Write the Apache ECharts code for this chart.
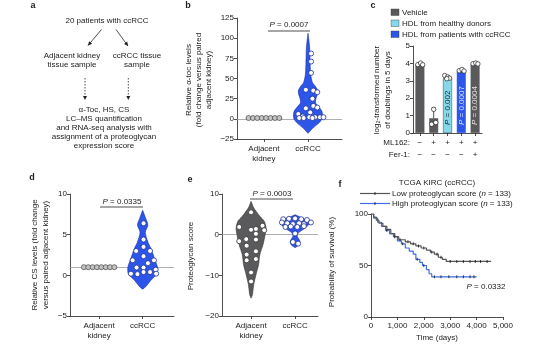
<!DOCTYPE html>
<html><head><meta charset="utf-8">
<script src="https://cdn.jsdelivr.net/npm/echarts@6/dist/echarts.min.js"></script>
<style>html,body{margin:0;padding:0;background:#fff}#c{width:554px;height:346px}</style>
</head><body><div id="c"></div>
<script>
// ---------------- DATA ----------------
const groupNames = ['Adjacent\nkidney', 'ccRCC'];

// panel b (alpha-toc) : [x-jitter, value]
const bAdjPoints = [[-0.35,1],[-0.25,1],[-0.15,1],[-0.05,1],[0.05,1],[0.15,1],[0.25,1],[0.35,1]];
const bCcPoints = [[0.07,81],[0.07,71],[0.07,57],[-0.05,36],[0.12,35],[0.21,33],[0.1,25],[0.12,16],[0.21,14],[-0.05,13],
  [0.05,8],[-0.22,6],[-0.12,3],[0.03,2],[0.16,2],[0.27,2],[-0.2,1],[0.35,2],[-0.1,1],[0.1,1]];
const bViolinY = [-18,-12,-5,0,5,10,15,20,25,30,35,40,45,55,65,75,85,95,106];
const bViolinW = [0,0.1,0.25,0.32,0.33,0.31,0.24,0.17,0.18,0.21,0.22,0.17,0.1,0.06,0.05,0.045,0.04,0.025,0];
const bPValue = '0.0007';

// panel c (doublings)
const cCategories = ['Vehicle','ML162','HDL healthy','HDL ccRCC','ML162 + Fer-1'];
const cBarValues = [3.95, 0.85, 3.15, 3.55, 3.95];
const cErrorTop = [4.0, 1.45, 3.3, 3.66, 4.02];
const cPoints = [
  [[-0.15,3.93],[0.05,4.02],[0.2,3.92]],
  [[0.0,1.36],[-0.15,0.5],[0.15,0.6]],
  [[-0.2,3.3],[0.0,3.22],[0.15,3.15],[-0.05,3.12]],
  [[-0.15,3.58],[0.05,3.65],[0.2,3.56]],
  [[-0.15,3.98],[0.05,4.02],[0.2,3.97]]
];
const cML162 = ['\u2212','+','+','+','+'];
const cFer1 = ['\u2212','\u2212','\u2212','\u2212','+'];
const cPLabels = ['', '', '0.002', '0.0007', '0.0004'];
const cLegendNames = ['Vehicle','HDL from healthy donors','HDL from patients with ccRCC'];

// panel d (CS levels)
const dAdjPoints = [[-0.35,1],[-0.25,1],[-0.15,1],[-0.05,1],[0.05,1],[0.15,1],[0.25,1],[0.35,1]];
const dCcPoints = [[0.02,6.4],[0.02,4.4],[0.02,3.5],[-0.15,3.0],[0.17,3.0],[0.02,2.35],[-0.23,1.85],[0.26,1.85],[0.12,1.5],
  [-0.14,0.95],[0.02,0.95],[-0.27,0.2],[-0.12,0.15],[0.02,0.4],[0.17,0.4],[0.3,0.7],[0.31,0.2]];
const dViolinY = [-1.7,-1.4,-0.6,0.2,1.0,2.1,3.3,4.1,5.3,6.2,7.0,8.0];
const dViolinW = [0,0.07,0.19,0.33,0.34,0.27,0.19,0.12,0.06,0.12,0.07,0];
const dPValue = '0.0335';

// panel e (proteoglycan score)
const eAdjPoints = [[0,5.5],[0.26,2.2],[-0.27,1.9],[0.11,1.4],[0,1.2],[0.3,1.1],[0.11,0.2],[-0.27,-1.6],[-0.11,-1.1],
  [0.11,-1.2],[-0.1,-2.7],[0.11,-4.1],[-0.1,-4.9],[-0.1,-6.3],[0.11,-6.0],[0,-9.3],[0,-11.5]];
const eAdjViolinY = [-15.6,-14.8,-12.3,-9.9,-7.4,-4.9,-2.5,0,1.6,3.3,4.5,6.6,8.2];
const eAdjViolinW = [0,0.03,0.06,0.11,0.17,0.2,0.27,0.32,0.34,0.3,0.2,0.06,0];
const eCcPoints = [[-0.27,3.8],[-0.14,3.9],[0,4.0],[0.14,3.8],[0.27,3.6],[0.36,3.0],[-0.3,3.0],[-0.18,2.8],[-0.05,2.6],
  [0.09,2.8],[0.2,2.6],[-0.1,2.0],[0.05,1.9],[0.2,2.1],[-0.22,1.9],[0,0.3],[-0.05,-1.8],[0.07,-2.2]];
const eCcViolinY = [-3.2,-2.5,-1.6,-0.4,0.4,1.65,2.9,3.8,4.9];
const eCcViolinW = [0,0.09,0.11,0.05,0.07,0.23,0.34,0.22,0];
const ePValue = '0.0003';

// panel f (Kaplan-Meier)
const lowTime = [0,100,200,300,450,600,750,900,1050,1300,1500,1700,1900,2100,2250,2400,2550,2700,2850,4550];
const lowSurv = [100,97,94,91,88,85,81,78,75,73,71,69,67,65,63,61,58,56,54,54];
const highTime = [0,100,250,400,550,700,850,1000,1150,1300,1450,1600,1700,1850,1950,2100,2200,2300,4000];
const highSurv = [100,96,92,88,84,81,78,74,71,67,64,61,56,53,50,46,42,39,39];
const lowCensor = [1100,1400,1600,1800,2000,2300,2500,2650,3000,3250,3500,3750,3950,4150,4400];
const highCensor = [600,900,1200,1750,2000,2400,2650,2950,3250,3500,3750,3900];
const fPValue = '0.0332';

// ---------------- STYLE ----------------
const FF = '"Liberation Sans", Arial, Helvetica, sans-serif';
const INK = '#222';
const BLUE = '#2d55ea';
const BLUE_EDGE = '#1a2f9a';
const GREY = '#5a5a5c';
const CYAN = '#86d7e8';
const barColors = [GREY, GREY, CYAN, BLUE, GREY];
const barLabelColors = ['#fff','#fff','#123038','#d6e2ff','#e4e4e4'];

function axisLine(){ return {show:true,onZero:false,lineStyle:{color:INK,width:0.8}}; }
function tick(){ return {show:true,length:3,lineStyle:{color:INK,width:0.8}}; }
function lbl(extra){ return Object.assign({fontSize:8,color:INK,fontFamily:FF,margin:3}, extra||{}); }
const minusFmt = v => String(v).replace('-', '\u2212');

function groupXAxis(grid, min, max){
  return {gridIndex:grid,type:'value',min:min,max:max,axisLine:axisLine(),splitLine:{show:false},
    axisTick:Object.assign(tick(),{customValues:[0,1]}),
    axisLabel:lbl({customValues:[0,1],margin:5,lineHeight:10,formatter:v=>groupNames[Math.round(v)]})};
}
function valYAxis(grid,min,max,interval){
  return {gridIndex:grid,type:'value',min:min,max:max,interval:interval,axisLine:axisLine(),axisTick:tick(),
    splitLine:{show:false},axisLabel:lbl({formatter:minusFmt})};
}
function violin(grid, center, ys, ws, fill, stroke){
  return {type:'custom',xAxisIndex:grid,yAxisIndex:grid,silent:true,z:2,data:[[center,ys[0]]],
    renderItem:function(params, api){
      const right=[], left=[];
      for(let i=0;i<ys.length;i++){
        right.push(api.coord([center+ws[i], ys[i]]));
        left.push(api.coord([center-ws[i], ys[i]]));
      }
      return {type:'polygon',shape:{points:right.concat(left.reverse()),smooth:0.25},
        style:{fill:fill,stroke:stroke,lineWidth:0.6}};
    }};
}
function dots(grid, center, pts, fill, stroke, refLine){
  const s = {type:'scatter',xAxisIndex:grid,yAxisIndex:grid,z:4,symbolSize:5,silent:true,
    data:pts.map(p=>[center+p[0], p[1]]),
    itemStyle:{color:fill,borderColor:stroke,borderWidth:0.8,opacity:1}};
  if(refLine!==undefined){
    s.markLine={silent:true,symbol:'none',label:{show:false},z:1,
      lineStyle:{color:'#9a9a9a',width:0.8,type:'solid'},data:[{yAxis:refLine}]};
  }
  return s;
}
function stepLookup(ts, ss, t){ let v=ss[0]; for(let i=0;i<ts.length;i++){ if(ts[i]<=t) v=ss[i]; } return v; }

function txt(x,y,text,opt){
  return {type:'text',x:x,y:y,silent:true,style:Object.assign({text:text,fill:INK,fontSize:8,fontFamily:FF,
    align:'center',verticalAlign:'middle'},opt||{})};
}
function rotTxt(x,y,text,opt){
  const t = txt(x,y,text,Object.assign({lineHeight:10},opt||{}));
  t.rotation = Math.PI/2; return t;
}
const richP = {i:{fontStyle:'italic',fontSize:8,fontFamily:FF,fill:INK}};
function pText(x,y,val){ return txt(x,y,'{i|P} = '+val,{rich:richP}); }
function seg(x1,y1,x2,y2,opt){
  return {type:'line',silent:true,shape:{x1:x1,y1:y1,x2:x2,y2:y2},style:Object.assign({stroke:INK,lineWidth:0.8},opt||{})};
}
function arrowHead(x1,y1,x2,y2){
  const a=Math.atan2(y2-y1,x2-x1), L=4, W=2;
  const p1=[x2-L*Math.cos(a)+W*Math.sin(a), y2-L*Math.sin(a)-W*Math.cos(a)];
  const p2=[x2-L*Math.cos(a)-W*Math.sin(a), y2-L*Math.sin(a)+W*Math.cos(a)];
  return {type:'polygon',silent:true,shape:{points:[[x2,y2],p1,p2]},style:{fill:INK}};
}

// ---------------- OPTION ----------------
const grids = [
  {left:237,top:18,width:105,height:121},   // b
  {left:413,top:46,width:69,height:87},     // c
  {left:70,top:194,width:104,height:122},   // d
  {left:222,top:194,width:96,height:122},   // e
  {left:371,top:214,width:132,height:103}   // f
];

const xAxes = [
  groupXAxis(0,-0.61,1.77),
  {gridIndex:1,type:'category',data:cCategories,axisLine:axisLine(),axisTick:Object.assign(tick(),{alignWithLabel:true}),
    axisLabel:lbl({margin:4,lineHeight:12,interval:0,formatter:(v,i)=>cML162[i]+'\n'+cFer1[i]})},
  groupXAxis(2,-0.67,1.72),
  groupXAxis(3,-0.66,1.52),
  {gridIndex:4,type:'value',min:0,max:5000,interval:1000,axisLine:axisLine(),axisTick:tick(),splitLine:{show:false},
    axisLabel:lbl({margin:5,formatter:v=>v.toLocaleString('en-US')})},
  {gridIndex:1,type:'value',min:-0.5,max:4.5,show:false}
];
const yAxes = [
  valYAxis(0,-25,125,25),
  valYAxis(1,0,5,1),
  valYAxis(2,-5,10,5),
  valYAxis(3,-20,10,10),
  valYAxis(4,0,100,50)
];

const series = [
  // b
  violin(0,1,bViolinY,bViolinW,BLUE,BLUE_EDGE),
  dots(0,0,bAdjPoints,'#c4c4c4','#555',0),
  dots(0,1,bCcPoints,'#fff',BLUE_EDGE),
  // c bars
  {type:'bar',xAxisIndex:1,yAxisIndex:1,barWidth:9,z:2,silent:true,
    data:cBarValues.map((v,i)=>({value:v,itemStyle:{color:barColors[i],borderColor:i===2?'#2b4a52':barColors[i],borderWidth:0.5},
      label:{show:cPLabels[i]!=='',rotate:90,position:'insideBottom',align:'left',verticalAlign:'middle',distance:8,
        formatter:'{i|P} = '+cPLabels[i],color:barLabelColors[i],fontSize:8,fontFamily:FF,
        rich:{i:{fontStyle:'italic',fontSize:8,fontFamily:FF,color:barLabelColors[i]}}}}))},
  {type:'custom',xAxisIndex:5,yAxisIndex:1,z:3,silent:true,
    data:cErrorTop.map((t,i)=>[i,cBarValues[i],t]),
    renderItem:function(params,api){
      const x=api.value(0); const p0=api.coord([x,api.value(1)]); const p1=api.coord([x,api.value(2)]);
      return {type:'group',children:[
        {type:'line',shape:{x1:p0[0],y1:p0[1],x2:p1[0],y2:p1[1]},style:{stroke:INK,lineWidth:0.8}},
        {type:'line',shape:{x1:p1[0]-2,y1:p1[1],x2:p1[0]+2,y2:p1[1]},style:{stroke:INK,lineWidth:0.8}}]};
    }},
  {type:'scatter',xAxisIndex:5,yAxisIndex:1,z:4,symbolSize:4.5,silent:true,
    data:[].concat(...cPoints.map((arr,i)=>arr.map(p=>[i+p[0],p[1]]))),
    itemStyle:{color:'#fff',borderColor:INK,borderWidth:0.7,opacity:1}},
  // d
  violin(2,1,dViolinY,dViolinW,BLUE,BLUE_EDGE),
  dots(2,0,dAdjPoints,'#c4c4c4','#555',1),
  dots(2,1,dCcPoints,'#fff',BLUE_EDGE),
  // e
  violin(3,0,eAdjViolinY,eAdjViolinW,GREY,'#333'),
  violin(3,1,eCcViolinY,eCcViolinW,BLUE,BLUE_EDGE),
  dots(3,0,eAdjPoints,'#fff','#333',0),
  dots(3,1,eCcPoints,'#fff',BLUE_EDGE),
  // f
  {type:'line',xAxisIndex:4,yAxisIndex:4,step:'end',symbol:'none',silent:true,z:3,
    data:highTime.map((t,i)=>[t,highSurv[i]]),lineStyle:{color:'#3c6de6',width:1.2}},
  {type:'line',xAxisIndex:4,yAxisIndex:4,step:'end',symbol:'none',silent:true,z:3,
    data:lowTime.map((t,i)=>[t,lowSurv[i]]),lineStyle:{color:'#555',width:1.2}},
  {type:'scatter',xAxisIndex:4,yAxisIndex:4,symbol:'rect',symbolSize:[1,3],silent:true,z:5,
    data:lowCensor.map(t=>[t,stepLookup(lowTime,lowSurv,t)]).concat(highCensor.map(t=>[t,stepLookup(highTime,highSurv,t)])),
    itemStyle:{color:'#111'}}
];

const graphic = [
  // panel letters
  txt(33,6,'a',{fontWeight:'bold',fontSize:9}),
  txt(188,6,'b',{fontWeight:'bold',fontSize:9}),
  txt(373,6,'c',{fontWeight:'bold',fontSize:9}),
  txt(32,178,'d',{fontWeight:'bold',fontSize:9}),
  txt(190,180,'e',{fontWeight:'bold',fontSize:9}),
  txt(340,185,'f',{fontWeight:'bold',fontSize:9}),
  // panel a
  txt(107,21,'20 patients with ccRCC'),
  seg(101.5,29.5,88,45.5), arrowHead(101.5,29.5,88,45.5),
  seg(116,29.5,128,46), arrowHead(116,29.5,128,46),
  txt(72,56,'Adjacent kidney'), txt(72,65,'tissue sample'),
  txt(137,56,'ccRCC tissue'), txt(137,65,'sample'),
  seg(85,78,85,98,{lineDash:[1.5,1.5]}), arrowHead(85,78,85,100),
  seg(128.3,78,128.3,98,{lineDash:[1.5,1.5]}), arrowHead(128.3,78,128.3,100),
  txt(104,110,'\u03b1-Toc, HS, CS'),
  txt(104,119,'LC\u2013MS quantification'),
  txt(104,128,'and RNA-seq analysis with'),
  txt(104,137,'assignment of a proteoglycan'),
  txt(104,146,'expression score'),
  // panel b
  rotTxt(199,80,'Relative \u03b1-toc levels\n(fold change versus paired\nadjacent kidney)'),
  pText(289,25,bPValue), seg(268,31,310,31),
  // panel c
  rotTxt(382,90,'log\u2082-transformed number\nof doublings in 5 days',{lineHeight:11}),
  {type:'rect',silent:true,shape:{x:391,y:9,width:8,height:6.5},style:{fill:GREY,stroke:'#333',lineWidth:0.4}},
  {type:'rect',silent:true,shape:{x:391,y:20,width:8,height:6.5},style:{fill:CYAN,stroke:'#333',lineWidth:0.4}},
  {type:'rect',silent:true,shape:{x:391,y:31,width:8,height:6.5},style:{fill:BLUE,stroke:'#333',lineWidth:0.4}},
  txt(402,12.5,cLegendNames[0],{align:'left'}),
  txt(402,23.5,cLegendNames[1],{align:'left'}),
  txt(402,34.5,cLegendNames[2],{align:'left'}),
  txt(410,143,'ML162:',{align:'right'}),
  txt(410,155,'Fer-1:',{align:'right'}),
  // panel d
  rotTxt(40,255,'Relative CS levels (fold change\nversus paired adjacent kidney)',{lineHeight:11}),
  pText(122,202,dPValue), seg(100,207,143,207),
  // panel e
  rotTxt(191,256,'Proteoglycan score'),
  pText(272,194,ePValue), seg(250,199,293,199),
  // panel f
  rotTxt(332,262,'Probability of survival (%)'),
  txt(437,183,'TCGA KIRC (ccRCC)'),
  seg(360,193.5,390,193.5,{stroke:'#555',lineWidth:1.2}), seg(375,192,375,195,{stroke:'#111',lineWidth:0.8}),
  seg(360,203.5,390,203.5,{stroke:'#3c6de6',lineWidth:1.2}), seg(375,202,375,205,{stroke:'#111',lineWidth:0.8}),
  txt(392,193.5,'Low proteoglycan score ({i|n} = 133)',{align:'left',rich:richP}),
  txt(392,203.5,'High proteoglycan score ({i|n} = 133)',{align:'left',rich:richP}),
  pText(486,287,fPValue),
  txt(437,338,'Time (days)')
];

const chart = echarts.init(document.getElementById('c'), null, {renderer:'canvas'});
chart.setOption({
  backgroundColor:'#fff',
  animation:false,
  textStyle:{fontFamily:FF},
  grid:grids, xAxis:xAxes, yAxis:yAxes, series:series, graphic:graphic
});
</script></body></html>
